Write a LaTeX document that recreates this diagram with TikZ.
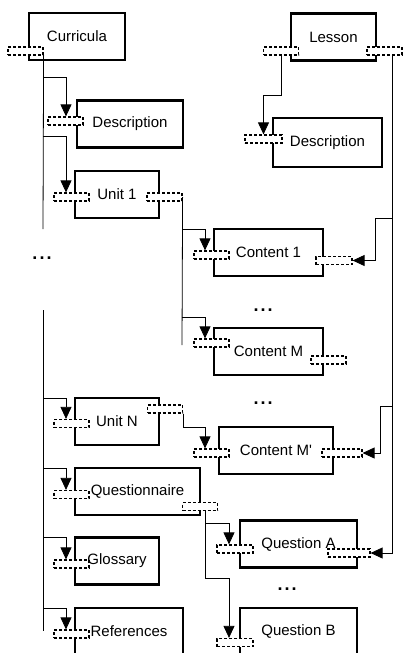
\documentclass[tikz,border=0pt]{standalone}
\usepackage{fontspec}
\setmainfont{Liberation Sans}
\usetikzlibrary{arrows.meta}

\newcommand{\gapdots}{.\kern2pt.\kern2pt.}

\tikzset{
	box/.style={draw,rectangle,line width=2.6pt,minimum height=47pt,inner sep=0pt,font=\fontsize{15}{18}\selectfont},
	port/.style={draw,rectangle,dash pattern=on 3pt off 2pt,line width=1.2pt,fill=white,minimum width=35pt,minimum height=8pt,inner sep=0pt},
	link/.style={line width=0.8pt},
	arr/.style={link,-{Triangle[length=12pt,width=11pt]}},
	dots/.style={font=\fontsize{18}{20}\selectfont\bfseries,inner sep=0pt}
}

\begin{document}
\begin{tikzpicture}[x=1pt,y=-1pt]
		\useasboundingbox (0,0) rectangle (403,653);
		\clip (0,0) rectangle (403,653);

		% the elements
		\node[box,minimum width=96pt] at (77,36.5) (curr) { Curricula };
		\node[box,minimum width=85pt] at (333.5,37) (lesson) { Lesson };
		\node[box,minimum width=106pt] at (130,124) (cdesc) { Description };
		\node[box,minimum width=109pt,minimum height=49pt] at (327.5,142.5) (ldesc) { Description };
		\node[box,minimum width=84pt] at (117,194.5) (unit1) { Unit 1 };
		\node[box,minimum width=109pt] at (268.5,252.5) (cont1) { Content 1 };
		\node[box,minimum width=109pt] at (268.5,351.5) (contm) { Content M };
		\node[box,minimum width=84pt] at (117,421.5) (unitn) { Unit N };
		\node[box,minimum width=114pt] at (276,450.5) (contmp) { Content M\textquotesingle };
		\node[box,minimum width=125pt] at (137.5,491.5) (quest) { Questionnaire };
		\node[box,minimum width=117pt] at (298.5,544) (qa) { Question A };
		\node[box,minimum width=84pt] at (117,561) (gloss) { Glossary };
		\node[box,minimum width=108pt] at (129,631.5) (refs) { References };
		\node[box,minimum width=117pt] at (298.5,631.5) (qb) { Question B };

		% ports
		\node[port] at (25.5,51) (pcurr) {};
		\node[port] at (281,51) (plessl) {};
		\node[port] at (384.5,51) (plessr) {};
		\node[port] at (65.5,121) (pcdesc) {};
		\node[port,minimum width=37pt] at (263.5,139) (pldesc) {};
		\node[port] at (71.5,197) (punit1l) {};
		\node[port] at (164.5,197) (punit1r) {};
		\node[port] at (211.5,255) (pcont1l) {};
		\node[port,minimum width=36pt] at (334,260.5) (pcont1r) {};
		\node[port] at (211.5,343) (pcontml) {};
		\node[port] at (328.5,360) (pcontmr) {};
		\node[port] at (71.5,423.5) (punitnl) {};
		\node[port] at (165,409) (punitnr) {};
		\node[port] at (211.5,453) (pcontmpl) {};
		\node[port,minimum width=40pt] at (342,453) (pcontmpr) {};
		\node[port] at (71.5,494.5) (pquestl) {};
		\node[port] at (200,506.5) (pquestr) {};
		\node[port,minimum width=36pt] at (235,549) (pqal) {};
		\node[port,minimum width=42pt] at (349,553) (pqar) {};
		\node[port] at (71.5,564) (pglossl) {};
		\node[port] at (71.5,634) (prefsl) {};
		\node[port,minimum width=36pt] at (235,642.5) (pqbl) {};

		% columns and branch points
		\coordinate (colL) at (66,0);
		\coordinate (colC) at (205,0);
		\coordinate (colQ) at (229,0);
		\coordinate (trunkR) at (392,0);
		\coordinate (gapTop) at (43,229);
		\coordinate (gapBot) at (43,310);
		\coordinate (trunkEnd) at (43,631);
		\coordinate (brDesc) at (43,77);
		\coordinate (brUnit1) at (43,136);
		\coordinate (brUnitN) at (43,398);
		\coordinate (brQuest) at (43,468);
		\coordinate (brGloss) at (43,537);
		\coordinate (brRefs) at (43,608);
		\coordinate (unit1End) at (182,345);
		\coordinate (brCont1) at (182,229);
		\coordinate (brContM) at (182,317);
		\coordinate (brQA) at (205,523);
		\coordinate (brQB) at (205,578);
		\coordinate (brC1) at (392,218);
		\coordinate (brCMp) at (392,406);

		% curricula
		\draw[link] (pcurr.south east) -- (gapTop);
		\draw[link] (gapBot) -- (trunkEnd);
		\draw[arr] (brDesc) -| (colL |- pcdesc.north);
		\draw[arr] (brUnit1) -| (colL |- punit1l.north);
		\draw[arr] (brUnitN) -| (colL |- punitnl.north);
		\draw[arr] (brQuest) -| (colL |- pquestl.north);
		\draw[arr] (brGloss) -| (colL |- pglossl.north);
		\draw[arr] (brRefs) -| (colL |- prefsl.north);

		\draw[link] (punit1r.east) -- (unit1End);
		\draw[arr] (brCont1) -| (colC |- pcont1l.north);
		\draw[arr] (brContM) -| (colC |- pcontml.north);
		\draw[arr] (punitnr.south east) -- ++(0,14) -| (colC |- pcontmpl.north);

		\draw[arr] (pquestr.south -| colC) -- (brQA) -| (colQ |- pqal.north);
		\draw[arr] (brQA) -- (brQB) -| (colQ |- pqbl.north);

		% lesson
		\draw[arr] (plessl.south) -- ++(0,40) -| (pldesc.north);
		\draw[arr] (plessr.south -| trunkR) |- (pqar.east);
		\draw[arr] (brC1) -- ++(-17,0) |- (pcont1r.east);
		\draw[arr] (brCMp) -- ++(-12,0) |- (pcontmpr.east);

		\node[dots] at (42,258) (dotsU) {\gapdots};
		\node[dots] at (263,310) (dotsC1) {\gapdots};
		\node[dots] at (263,403) (dotsC2) {\gapdots};
		\node[dots] at (287,589) (dotsQ) {\gapdots};
	\end{tikzpicture}
\end{document}
